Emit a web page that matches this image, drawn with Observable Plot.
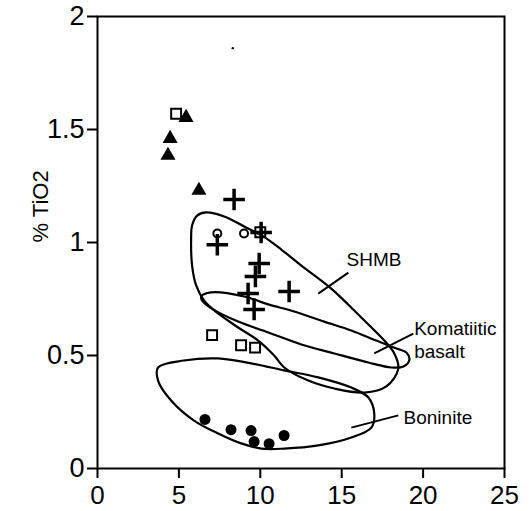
<!DOCTYPE html>
<html><head><meta charset="utf-8">
<script src="https://cdn.jsdelivr.net/npm/d3@7"></script>
<script src="https://cdn.jsdelivr.net/npm/@observablehq/plot@0.6"></script>
<style>body{margin:0;background:#fff}#chart{position:absolute;left:0;top:0}</style>
</head><body><div id="chart"></div>
<script>
// Axis ticks
const xTicks = [0, 5, 10, 15, 20, 25];
const yTicks = [0, 0.5, 1, 1.5, 2];
const yLabel = "% TiO2";

// Point series
const squareX = [4.83, 7.04, 8.82, 9.68, 10.0];
const squareY = [1.57, 0.59, 0.545, 0.535, 1.045];
const triangleX = [5.44, 4.46, 4.33, 6.23];
const triangleY = [1.553, 1.46, 1.385, 1.23];
const plusX = [8.39, 7.36, 10.05, 9.93, 9.7, 11.77, 9.25, 9.62];
const plusY = [1.19, 0.99, 1.044, 0.907, 0.85, 0.783, 0.774, 0.704];
const openCircleX = [7.36, 9.0];
const openCircleY = [1.04, 1.04];
const filledCircleX = [6.6, 8.2, 9.43, 9.62, 10.54, 11.46];
const filledCircleY = [0.217, 0.172, 0.168, 0.119, 0.11, 0.146];
const strayX = [8.31];
const strayY = [1.86];

// Fields (outlines)
const shmbX = [5.75, 5.81, 6.12, 6.67, 7.78, 9.01, 10.18, 11.29, 12.52, 14.36, 16.20, 17.62, 18.23, 18.48, 17.74, 16.39, 14.55, 12.95, 11.47, 10.85, 9.87, 8.64, 7.41, 6.55, 6.06, 5.81];
const shmbY = [1.009, 1.075, 1.119, 1.133, 1.115, 1.071, 1.027, 0.969, 0.898, 0.796, 0.668, 0.566, 0.509, 0.442, 0.363, 0.336, 0.354, 0.389, 0.447, 0.500, 0.566, 0.624, 0.686, 0.743, 0.810, 0.898];
const komX = [6.37, 6.98, 9.01, 10.49, 12.08, 13.93, 15.59, 17.13, 18.36, 18.97, 19.16, 18.79, 18.05, 16.64, 14.55, 12.52, 10.49, 8.64, 7.10, 6.43];
const komY = [0.761, 0.779, 0.761, 0.726, 0.695, 0.650, 0.611, 0.566, 0.531, 0.513, 0.482, 0.451, 0.447, 0.469, 0.509, 0.549, 0.602, 0.650, 0.704, 0.743];
const bonX = [3.72, 5.32, 7.41, 9.44, 11.47, 13.56, 15.59, 16.64, 17.00, 16.82, 15.59, 13.56, 11.47, 10.06, 8.83, 7.41, 5.93, 4.52, 3.72];
const bonY = [0.447, 0.478, 0.487, 0.465, 0.434, 0.403, 0.358, 0.314, 0.243, 0.181, 0.137, 0.102, 0.088, 0.088, 0.111, 0.155, 0.212, 0.301, 0.389];

// Field labels and leader lines
const fieldLabels = ["SHMB", "Komatiitic\nbasalt", "Boninite"];
const labelX = [15.3, 19.45, 18.8];
const labelY = [0.93, 0.572, 0.228];
const leaderX1 = [13.56, 17.0, 15.59];
const leaderY1 = [0.774, 0.509, 0.181];
const leaderX2 = [15.41, 19.4, 18.48];
const leaderY2 = [0.867, 0.597, 0.235];

const pts = (xs, ys) => xs.map((x, i) => ({x, y: ys[i]}));
const idx = (a) => a.map((_, i) => i);

const chart = Plot.plot({
  width: 530, height: 511,
  marginLeft: 97, marginRight: 26, marginTop: 16, marginBottom: 43,
  style: {fontFamily: "'Liberation Sans', Arial, sans-serif", background: "#fff", color: "#000"},
  x: {domain: [0, 25]},
  y: {domain: [0, 2]},
  marks: [
    Plot.line(pts(shmbX, shmbY), {x: "x", y: "y", curve: "catmull-rom-closed", stroke: "#000", strokeWidth: 2.2}),
    Plot.line(pts(komX, komY), {x: "x", y: "y", curve: "catmull-rom-closed", stroke: "#000", strokeWidth: 2.2}),
    Plot.line(pts(bonX, bonY), {x: "x", y: "y", curve: "catmull-rom-closed", stroke: "#000", strokeWidth: 2.2}),
    Plot.link(idx(leaderX1), {x1: i => leaderX1[i], y1: i => leaderY1[i], x2: i => leaderX2[i], y2: i => leaderY2[i], stroke: "#000", strokeWidth: 2}),
    Plot.text(idx(fieldLabels), {x: i => labelX[i], y: i => labelY[i], text: i => fieldLabels[i], textAnchor: "start", fontSize: 19, lineHeight: 1.2, fill: "#000"}),
    Plot.dot(pts(triangleX, triangleY), {x: "x", y: "y", symbol: "triangle", r: 5.6, fill: "#000"}),
    Plot.dot(pts(squareX, squareY), {x: "x", y: "y", symbol: "square", r: 5.6, fill: "none", stroke: "#000", strokeWidth: 2}),
    Plot.dot(pts(plusX, plusY), {x: "x", y: "y", symbol: "plus", r: 7, stroke: "#000", strokeWidth: 3.5}),
    Plot.dot(pts(openCircleX, openCircleY), {x: "x", y: "y", symbol: "circle", r: 4, fill: "none", stroke: "#000", strokeWidth: 2}),
    Plot.dot(pts(filledCircleX, filledCircleY), {x: "x", y: "y", symbol: "circle", r: 5.5, fill: "#000"}),
    Plot.dot(pts(strayX, strayY), {x: "x", y: "y", r: 1.2, fill: "#000"}),
    Plot.frame({stroke: "#000", strokeWidth: 2}),
    Plot.axisX({ticks: xTicks, tickFormat: d => `${d}`, tickSize: 10, tickPadding: 7, fontSize: 26, strokeWidth: 2, label: null}),
    Plot.axisY({ticks: yTicks, tickFormat: d => `${d}`, tickSize: 10, tickPadding: 3, fontSize: 27, strokeWidth: 2, label: null}),
    Plot.text([yLabel], {frameAnchor: "left", dx: -57, rotate: -90, fontSize: 22, fill: "#000", text: d => d})
  ]
});
document.getElementById("chart").appendChild(chart);
</script>
</body></html>
